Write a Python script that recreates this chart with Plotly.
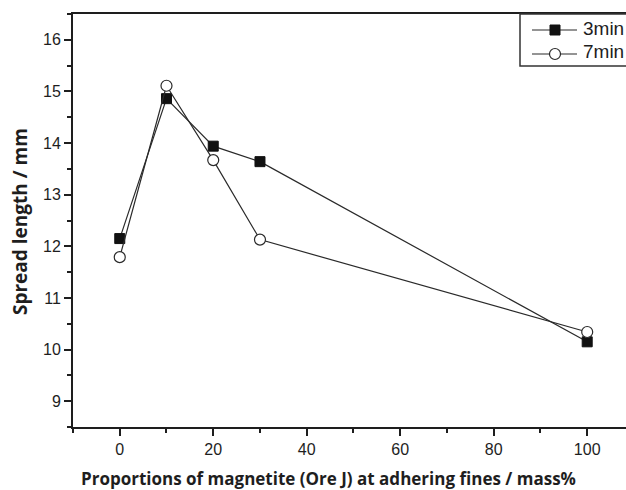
import plotly.graph_objects as go

x_vals = [0, 10, 20, 30, 100]
y_3min = [12.15, 14.86, 13.94, 13.64, 10.15]
y_7min = [11.79, 15.11, 13.67, 12.13, 10.34]
series_names = ["3min", "7min"]
y_ticks = [9, 10, 11, 12, 13, 14, 15, 16]
x_ticks = [0, 20, 40, 60, 80, 100]
x_title = "Proportions of magnetite (Ore J) at adhering fines / mass%"
y_title = "Spread length / mm"

INK = "#1e1e1e"
PW, PH = 553, 413  # plot area size in px

fig = go.Figure()
fig.add_trace(go.Scatter(
    x=x_vals, y=y_3min, name=series_names[0], mode="lines+markers",
    line=dict(color="#2a2a2a", width=1.2),
    marker=dict(symbol="square", size=10, color="#111111", line=dict(color="#111111", width=1)),
))
fig.add_trace(go.Scatter(
    x=x_vals, y=y_7min, name=series_names[1], mode="lines+markers",
    line=dict(color="#2a2a2a", width=1.2),
    marker=dict(symbol="circle", size=11, color="white", line=dict(color="#2a2a2a", width=1.2)),
))

axis_font = dict(family="Liberation Sans, Arial, sans-serif", size=16, color=INK)
title_family = "Open Sans, Noto Sans, sans-serif"

# manual legend (extends past the right edge, as in the reference)
shapes = [
    dict(type="rect", xref="paper", yref="paper", x0=(520 - 73) / PW, x1=1.03, y0=(427 - 66) / PH, y1=1.0,
         line=dict(color="#333333", width=1.5), fillcolor="white", layer="above"),
]
rows = [(427 - 30) / PH, (427 - 54) / PH]
text_rows = [(427 - 28) / PH, (427 - 51) / PH]
symbols = ["square", "circle"]
annotations = []
for yy, ty, sym, name in zip(rows, text_rows, symbols, series_names):
    shapes.append(dict(type="line", xref="paper", yref="paper", x0=(532 - 73) / PW, x1=(577 - 73) / PW,
                       y0=yy, y1=yy, line=dict(color="#2a2a2a", width=1.2), layer="above"))
    cx = (555 - 73) / PW
    if sym == "square":
        hw, hh = 5 / PW, 5 / PH
        shapes.append(dict(type="rect", xref="paper", yref="paper", x0=cx - hw, x1=cx + hw,
                           y0=yy - hh, y1=yy + hh, fillcolor="#111111",
                           line=dict(color="#111111", width=1), layer="above"))
    else:
        hw, hh = 5.5 / PW, 5.5 / PH
        shapes.append(dict(type="circle", xref="paper", yref="paper", x0=cx - hw, x1=cx + hw,
                           y0=yy - hh, y1=yy + hh, fillcolor="white",
                           line=dict(color="#2a2a2a", width=1.2), layer="above"))
    annotations.append(dict(xref="paper", yref="paper", x=(581 - 73) / PW, y=ty,
                            xanchor="left", yanchor="middle", text=name, showarrow=False,
                            font=dict(family="Liberation Sans, Arial, sans-serif", size=19, color=INK)))

# axis titles
annotations.append(dict(xref="paper", yref="paper", x=(328.5 - 73) / PW, y=(427 - 478) / PH,
                        xanchor="center", yanchor="middle", text="<b>" + x_title + "</b>",
                        showarrow=False, font=dict(family=title_family, size=17, color=INK)))
annotations.append(dict(xref="paper", yref="paper", x=(20 - 73) / PW, y=(427 - 222) / PH,
                        xanchor="center", yanchor="middle", text="<b>" + y_title + "</b>",
                        textangle=-90, showarrow=False,
                        font=dict(family=title_family, size=19, color=INK)))

fig.update_layout(
    width=626, height=490,
    margin=dict(l=73, r=0, t=14, b=63),
    paper_bgcolor="white", plot_bgcolor="white",
    showlegend=False,
    shapes=shapes,
    annotations=annotations,
    xaxis=dict(
        range=[-10, 108.3], tickvals=x_ticks, ticks="outside", ticklen=7, tickwidth=2,
        tickcolor=INK, showline=True, linewidth=2, linecolor=INK,
        mirror=True, showgrid=False, zeroline=False, tickfont=axis_font,
        minor=dict(dtick=10, tick0=0, ticks="outside", ticklen=4, tickwidth=2, tickcolor=INK),
    ),
    yaxis=dict(
        range=[8.5, 16.5], tickvals=y_ticks, ticks="outside", ticklen=7, tickwidth=2,
        tickcolor=INK, showline=True, linewidth=2, linecolor=INK,
        mirror=False, showgrid=False, zeroline=False, tickfont=axis_font,
        minor=dict(dtick=0.5, tick0=0, ticks="outside", ticklen=4, tickwidth=2, tickcolor=INK),
    ),
)

fig.write_html("out.html")
